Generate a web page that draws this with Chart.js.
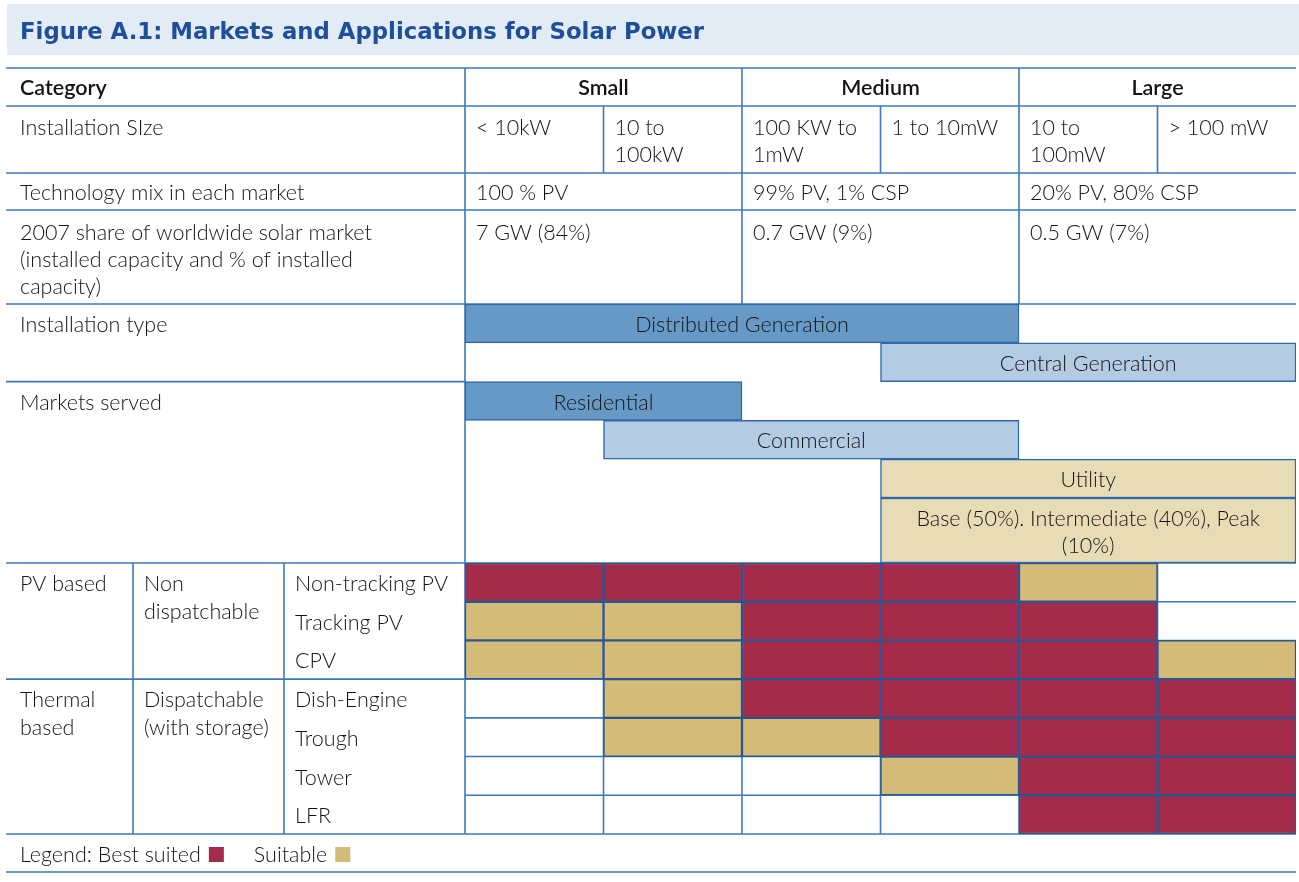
<!DOCTYPE html>
<html><head><meta charset="utf-8">
<script src="https://cdn.jsdelivr.net/npm/chart.js@4.4.1/dist/chart.umd.min.js"></script>
<style>html,body{margin:0;padding:0;background:#fff;}canvas{display:block;}</style>
</head><body>
<canvas id="c" width="1299" height="882"></canvas>
<script>
// ---------------- DATA ----------------
const figureTitle = 'Figure A.1: Markets and Applications for Solar Power';
const categoryHeader = 'Category';
const marketGroups = ['Small', 'Medium', 'Large'];
const sizeClasses = [['< 10kW'], ['10 to', '100kW'], ['100 KW to', '1mW'], ['1 to 10mW'], ['10 to', '100mW'], ['> 100 mW']];
const techMix = ['100 % PV', '99% PV, 1% CSP', '20% PV, 80% CSP'];
const share2007 = ['7 GW (84%)', '0.7 GW (9%)', '0.5 GW (7%)'];
const rowLabels = ['Installation SIze', 'Technology mix in each market',
  ['2007 share of worldwide solar market', '(installed capacity and % of installed', 'capacity)'],
  'Installation type', 'Markets served'];
const installationTypes = ['Distributed Generation', 'Central Generation'];
const installationSpans = [[0, 4], [3, 6]];          // size-class range covered
const marketsServed = ['Residential', 'Commercial', 'Utility'];
const marketSpans = [[0, 2], [1, 4], [3, 6]];
const utilitySegments = ['Base (50%). Intermediate (40%), Peak', '(10%)'];
const utilitySegmentSpan = [3, 6];
const techFamilies = [['PV based'], ['Thermal', 'based']];
const dispatchability = [['Non', 'dispatchable'], ['Dispatchable', '(with storage)']];
const familySize = [3, 4];
const technologies = ['Non-tracking PV', 'Tracking PV', 'CPV', 'Dish-Engine', 'Trough', 'Tower', 'LFR'];
// 2 = best suited, 1 = suitable, 0 = not suited (per size class)
const suitability = [
  [2, 2, 2, 2, 1, 0],
  [1, 1, 2, 2, 2, 0],
  [1, 1, 2, 2, 2, 1],
  [0, 1, 2, 2, 2, 2],
  [0, 1, 1, 2, 2, 2],
  [0, 0, 0, 1, 2, 2],
  [0, 0, 0, 0, 2, 2]
];
const legendLabels = ['Best suited', 'Suitable'];

// ---------------- LAYOUT / STYLE ----------------
const TOP = 68;
const rowHeights = [38, 67, 37, 94, 38.8, 38.8, 38.8, 38.8, 38.8, 65,
  38.714, 38.714, 38.714, 38.714, 38.714, 38.714, 38.714, 38];
const rowEdges = [0];
rowHeights.forEach(h => rowEdges.push(rowEdges[rowEdges.length - 1] + h));
const rowMid = i => (rowEdges[i] + rowEdges[i + 1]) / 2;
const R_DG = 4, R_RES = 6, R_BASE = 9, R_TECH = 10, R_LEG = 17;
const COL_A = 6, COL_B = 133, COL_C = 284;
const LINE = '#3b78bb';
const C_DARK = '#6699c5', C_LIGHT = '#b3cce3', C_UTIL = '#e8dcb7';
const C_BEST = '#a52b4b', C_SUIT = '#d4bb77';
const FONT = 'Lato, "Open Sans", sans-serif';
const TXT = '#141414';

// ---------------- DATASETS ----------------
const bestCells = [], suitCells = [];
suitability.forEach((row, r) => row.forEach((v, c) => {
  const pt = { x: [c, c + 1], y: rowMid(R_TECH + r) };
  if (v === 2) bestCells.push(pt); else if (v === 1) suitCells.push(pt);
}));

const datasets = [
  { label: 'Installation type', data: installationSpans.map((s, i) => ({ x: s, y: rowMid(R_DG + i) })),
    backgroundColor: [C_DARK, C_LIGHT], barThickness: 38.8 },
  { label: 'Markets served', data: marketSpans.map((s, i) => ({ x: s, y: rowMid(R_RES + i) })),
    backgroundColor: [C_DARK, C_LIGHT, C_UTIL], barThickness: 38.8 },
  { label: 'Utility segments', data: [{ x: utilitySegmentSpan, y: rowMid(R_BASE) }],
    backgroundColor: [C_UTIL], barThickness: 65 },
  { label: legendLabels[0], data: bestCells, backgroundColor: C_BEST, barThickness: 38.714, borderColor: '#2b5590' },
  { label: legendLabels[1], data: suitCells, backgroundColor: C_SUIT, barThickness: 38.714, borderColor: '#2b5590' }
];

// ---------------- PLUGIN (table frame + text) ----------------
const tablePlugin = {
  id: 'table',
  beforeDraw(chart) {
    const ctx = chart.ctx;
    ctx.save();
    ctx.fillStyle = '#fff';
    ctx.fillRect(0, 0, chart.width, chart.height);
    ctx.fillStyle = '#e3ebf4';
    ctx.fillRect(7, 4, chart.width - 7, 51);
    ctx.restore();
  },
  beforeDatasetsDraw(chart) {
    const ctx = chart.ctx, xs = chart.scales.x, ys = chart.scales.y;
    const X = v => xs.getPixelForValue(v), Y = v => ys.getPixelForValue(v);
    const right = X(6);
    ctx.save();
    ctx.strokeStyle = LINE;
    ctx.lineWidth = 1.6;
    const h = (y, x0, x1) => { ctx.beginPath(); ctx.moveTo(x0, y); ctx.lineTo(x1, y); ctx.stroke(); };
    const v = (x, y0, y1) => { ctx.beginPath(); ctx.moveTo(x, y0); ctx.lineTo(x, y1); ctx.stroke(); };
    [0, 1, 2, 3, 4, R_BASE + 1, R_TECH + 3, R_LEG, R_LEG + 1].forEach(i => h(Y(rowEdges[i]), COL_A, right));
    h(Y(rowEdges[R_RES]), COL_A, X(0));
    for (let i = R_TECH + 1; i < R_LEG; i++) h(Y(rowEdges[i]), X(0), right);
    v(X(0), Y(rowEdges[0]), Y(rowEdges[R_LEG]));
    [2, 4].forEach(c => v(X(c), Y(rowEdges[0]), Y(rowEdges[4])));
    [1, 3, 5].forEach(c => v(X(c), Y(rowEdges[1]), Y(rowEdges[2])));
    [1, 2, 3, 4, 5].forEach(c => v(X(c), Y(rowEdges[R_TECH]), Y(rowEdges[R_LEG])));
    [COL_B, COL_C].forEach(x => v(x, Y(rowEdges[R_TECH]), Y(rowEdges[R_LEG])));
    ctx.restore();
  },
  afterDatasetsDraw(chart) {
    const ctx = chart.ctx, xs = chart.scales.x, ys = chart.scales.y;
    const X = v => xs.getPixelForValue(v), Y = v => ys.getPixelForValue(v);
    const top = i => Y(rowEdges[i]);
    ctx.save();
    ctx.textBaseline = 'alphabetic';
    ctx.fillStyle = '#1d4f9b';
    ctx.font = 'bold 22.8px "DejaVu Sans", sans-serif';
    ctx.textAlign = 'left';
    ctx.fillText(figureTitle, 20, 39);
    ctx.fillStyle = TXT;
    const body = '300 21.5px ' + FONT, head = '600 21.5px ' + FONT;
    const lines = (arr, x, y, lh) => arr.forEach((t, k) => ctx.fillText(t, x, y + k * lh));
    ctx.font = head;
    ctx.fillText(categoryHeader, 20, top(0) + 27);
    ctx.textAlign = 'center';
    marketGroups.forEach((g, i) => ctx.fillText(g, X(i * 2 + 1), top(0) + 27));
    ctx.textAlign = 'left';
    ctx.font = body;
    ctx.fillText(rowLabels[0], 20, top(1) + 29);
    ctx.fillText(rowLabels[1], 20, top(2) + 27);
    lines(rowLabels[2], 20, top(3) + 30, 27);
    ctx.fillText(rowLabels[3], 20, top(R_DG) + 28);
    ctx.fillText(rowLabels[4], 20, top(R_RES) + 28);
    sizeClasses.forEach((s, c) => lines(s, X(c) + 11, top(1) + 29, 27));
    techMix.forEach((t, g) => ctx.fillText(t, X(g * 2) + 11, top(2) + 27));
    share2007.forEach((t, g) => ctx.fillText(t, X(g * 2) + 11, top(3) + 30));
    ctx.textAlign = 'center';
    installationTypes.forEach((t, i) => {
      const s = installationSpans[i];
      ctx.fillText(t, X((s[0] + s[1]) / 2), top(R_DG + i) + 28);
    });
    marketsServed.forEach((t, i) => {
      const s = marketSpans[i];
      ctx.fillText(t, X((s[0] + s[1]) / 2), top(R_RES + i) + 28);
    });
    lines(utilitySegments, X((utilitySegmentSpan[0] + utilitySegmentSpan[1]) / 2), top(R_BASE) + 28, 27);
    ctx.textAlign = 'left';
    let r = R_TECH;
    techFamilies.forEach((f, k) => {
      lines(f, 20, top(r) + 28, 28);
      lines(dispatchability[k], COL_B + 11, top(r) + 28, 28);
      r += familySize[k];
    });
    technologies.forEach((t, i) => ctx.fillText(t, COL_C + 11, top(R_TECH + i) + 28));
    const ly = top(R_LEG) + 28;
    let lx = 20;
    const colors = [C_BEST, C_SUIT];
    legendLabels.forEach((l, i) => {
      const txt = (i === 0 ? 'Legend: ' : '') + l;
      ctx.fillStyle = TXT;
      ctx.fillText(txt, lx, ly);
      lx += ctx.measureText(txt).width + 8;
      ctx.fillStyle = colors[i];
      ctx.fillRect(lx, ly - 15, 15, 15);
      lx += 15 + 30;
    });
    ctx.restore();
  }
};

new Chart(document.getElementById('c'), {
  type: 'bar',
  data: { datasets },
  options: {
    indexAxis: 'y',
    responsive: false,
    animation: false,
    devicePixelRatio: 1,
    layout: { padding: { left: 465, right: 3, top: TOP, bottom: 10 } },
    datasets: { bar: { grouped: false, borderWidth: 1.5, borderColor: '#2e69ab', borderSkipped: false } },
    scales: {
      x: { type: 'linear', min: 0, max: 6, display: false, offset: false, grid: { offset: false } },
      y: { type: 'linear', min: 0, max: 804, reverse: true, display: false, offset: false, grid: { offset: false } }
    },
    plugins: { legend: { display: false }, tooltip: { enabled: false } }
  },
  plugins: [tablePlugin]
});
</script>
</body></html>
